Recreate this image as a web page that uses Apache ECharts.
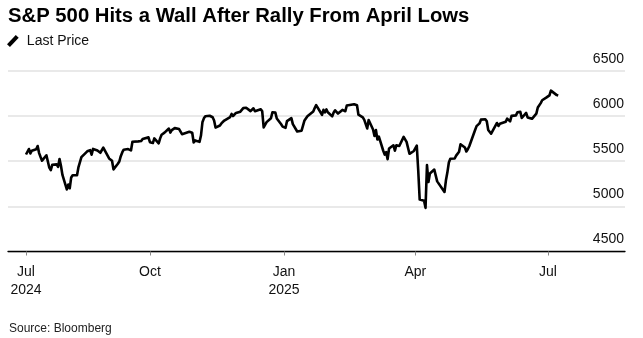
<!DOCTYPE html>
<html>
<head>
<meta charset="utf-8">
<script src="https://cdn.jsdelivr.net/npm/echarts@6/dist/echarts.min.js"></script>
<style>
  html, body { margin: 0; padding: 0; background: #fff; }
  #chart { width: 643px; height: 338px; }
</style>
</head>
<body>
<div id="chart"></div>
<script>
// S&P 500 daily closes, Jul 2024 - Jul 2025
const dates = [
  '2024-07-08','2024-07-09','2024-07-10','2024-07-11','2024-07-12','2024-07-15','2024-07-16','2024-07-17','2024-07-18','2024-07-19',
  '2024-07-22','2024-07-23','2024-07-24','2024-07-25','2024-07-26','2024-07-29','2024-07-30','2024-07-31',
  '2024-08-01','2024-08-02','2024-08-05','2024-08-06','2024-08-07','2024-08-08','2024-08-09','2024-08-12','2024-08-13','2024-08-14',
  '2024-08-15','2024-08-16','2024-08-19','2024-08-20','2024-08-21','2024-08-22','2024-08-23','2024-08-26','2024-08-27','2024-08-28',
  '2024-08-29','2024-08-30',
  '2024-09-03','2024-09-04','2024-09-05','2024-09-06','2024-09-09','2024-09-10','2024-09-11','2024-09-12','2024-09-13','2024-09-16',
  '2024-09-17','2024-09-18','2024-09-19','2024-09-20','2024-09-23','2024-09-24','2024-09-25','2024-09-26','2024-09-27','2024-09-30',
  '2024-10-01','2024-10-02','2024-10-03','2024-10-04','2024-10-07','2024-10-08','2024-10-09','2024-10-10','2024-10-11','2024-10-14',
  '2024-10-15','2024-10-16','2024-10-17','2024-10-18','2024-10-21','2024-10-22','2024-10-23','2024-10-24','2024-10-25','2024-10-28',
  '2024-10-29','2024-10-30','2024-10-31',
  '2024-11-01','2024-11-04','2024-11-05','2024-11-06','2024-11-07','2024-11-08','2024-11-11','2024-11-12','2024-11-13','2024-11-14',
  '2024-11-15','2024-11-18','2024-11-19','2024-11-20','2024-11-21','2024-11-22','2024-11-25','2024-11-26','2024-11-27','2024-11-29',
  '2024-12-02','2024-12-03','2024-12-04','2024-12-05','2024-12-06','2024-12-09','2024-12-10','2024-12-11','2024-12-12','2024-12-13',
  '2024-12-16','2024-12-17','2024-12-18','2024-12-19','2024-12-20','2024-12-23','2024-12-24','2024-12-26','2024-12-27','2024-12-30',
  '2024-12-31',
  '2025-01-02','2025-01-03','2025-01-06','2025-01-07','2025-01-08','2025-01-10','2025-01-13','2025-01-14','2025-01-15','2025-01-16',
  '2025-01-17','2025-01-21','2025-01-22','2025-01-23','2025-01-24','2025-01-27','2025-01-28','2025-01-29','2025-01-30','2025-01-31',
  '2025-02-03','2025-02-04','2025-02-05','2025-02-06','2025-02-07','2025-02-10','2025-02-11','2025-02-12','2025-02-13','2025-02-14',
  '2025-02-18','2025-02-19','2025-02-20','2025-02-21','2025-02-24','2025-02-25','2025-02-26','2025-02-27','2025-02-28',
  '2025-03-03','2025-03-04','2025-03-05','2025-03-06','2025-03-07','2025-03-10','2025-03-11','2025-03-12','2025-03-13','2025-03-14',
  '2025-03-17','2025-03-18','2025-03-19','2025-03-20','2025-03-21','2025-03-24','2025-03-25','2025-03-26','2025-03-27','2025-03-28',
  '2025-03-31',
  '2025-04-01','2025-04-02','2025-04-03','2025-04-04','2025-04-07','2025-04-08','2025-04-09','2025-04-10','2025-04-11','2025-04-14',
  '2025-04-15','2025-04-16','2025-04-17','2025-04-21','2025-04-22','2025-04-23','2025-04-24','2025-04-25','2025-04-28','2025-04-29',
  '2025-04-30',
  '2025-05-01','2025-05-02','2025-05-05','2025-05-06','2025-05-07','2025-05-08','2025-05-09','2025-05-12','2025-05-13','2025-05-14',
  '2025-05-15','2025-05-16','2025-05-19','2025-05-20','2025-05-21','2025-05-22','2025-05-23','2025-05-27','2025-05-28','2025-05-29',
  '2025-05-30',
  '2025-06-02','2025-06-03','2025-06-04','2025-06-05','2025-06-06','2025-06-09','2025-06-10','2025-06-11','2025-06-12','2025-06-13',
  '2025-06-16','2025-06-17','2025-06-18','2025-06-20','2025-06-23','2025-06-24','2025-06-25','2025-06-26','2025-06-27','2025-06-30',
  '2025-07-01','2025-07-02','2025-07-03','2025-07-07','2025-07-08'
];

const closes = [
  5572.85,5576.98,5633.91,5584.54,5615.35,5631.22,5667.20,5588.27,5544.59,5505.00,
  5564.41,5555.74,5427.13,5399.22,5459.10,5463.54,5436.44,5522.30,
  5446.68,5346.56,5186.33,5240.03,5199.50,5319.31,5344.16,5344.39,5434.43,5455.21,
  5543.22,5554.25,5608.25,5597.12,5620.85,5570.64,5634.61,5616.84,5625.80,5592.18,
  5591.96,5648.40,
  5528.93,5520.07,5503.41,5408.42,5471.05,5495.52,5554.13,5595.76,5626.02,5633.09,
  5634.58,5618.26,5713.64,5702.55,5718.57,5732.93,5722.26,5745.37,5738.17,5762.48,
  5708.75,5709.54,5699.94,5751.07,5695.94,5751.13,5792.04,5780.05,5815.03,5859.85,
  5815.26,5842.47,5841.47,5864.67,5853.98,5851.20,5797.42,5809.86,5808.12,5823.52,
  5832.92,5813.67,5705.45,
  5728.80,5712.69,5782.76,5929.04,5973.10,5995.54,6001.35,5983.99,5985.38,5949.17,
  5870.62,5893.62,5916.98,5917.11,5948.71,5969.34,5987.37,6021.63,5998.74,6032.38,
  6047.15,6049.88,6086.49,6075.11,6090.27,6052.85,6034.91,6084.19,6051.25,6051.09,
  6074.08,6050.61,5872.16,5867.08,5930.85,5974.07,6040.04,6037.59,5970.84,5906.94,
  5881.63,
  5868.55,5942.47,5975.38,5909.03,5918.25,5827.04,5836.22,5842.91,5949.91,5937.34,
  5996.66,6049.24,6086.37,6118.71,6101.24,6012.28,6067.70,6039.31,6071.17,6040.53,
  5994.57,6037.88,6061.48,6083.57,6025.99,6066.44,6068.50,6051.97,6115.07,6114.63,
  6129.58,6144.15,6117.52,6013.13,5983.25,5955.25,5956.06,5861.57,5954.50,
  5849.72,5778.15,5842.63,5738.52,5770.20,5614.56,5572.07,5599.30,5521.52,5638.94,
  5675.12,5614.66,5675.29,5662.89,5667.56,5767.57,5776.65,5712.20,5693.31,5580.94,
  5611.85,
  5633.07,5670.97,5396.52,5074.08,5062.25,4982.77,5456.90,5268.05,5363.36,5405.97,
  5396.63,5275.70,5282.70,5158.20,5287.76,5375.86,5484.77,5525.21,5528.75,5560.83,
  5569.06,
  5604.14,5686.67,5650.38,5606.91,5631.28,5663.94,5659.91,5844.19,5886.55,5892.58,
  5916.93,5958.38,5963.60,5940.46,5844.61,5842.01,5802.82,5921.54,5888.55,5912.17,
  5911.69,
  5935.94,5970.37,5970.81,5939.30,6000.36,6005.88,6038.81,6022.24,6045.26,5976.97,
  6033.11,5982.72,5980.87,5967.84,6025.17,6092.18,6092.16,6141.02,6173.07,6204.95,
  6198.01,6227.42,6279.35,6229.98,6225.52
];

// x-axis ticks and their labels
const tickDates = ['2024-07-08', '2024-10-01', '2025-01-01', '2025-04-01', '2025-07-01'];
const tickLabels = ['Jul\n2024', 'Oct', 'Jan\n2025', 'Apr', 'Jul'];

// y-axis range and step
const yMin = 4500, yMax = 6500, yStep = 500;

const DAY = 86400000;
const toTs = s => { const p = s.split('-').map(Number); return Date.UTC(p[0], p[1] - 1, p[2]); };
const tickTs = tickDates.map(toTs);
const seriesData = dates.map((d, i) => [toTs(d), closes[i]]);
const xMin = toTs('2024-07-08') - 12.34 * DAY;
const xMax = toTs('2025-07-01') + 52.8 * DAY;

const FONT = '"Liberation Sans", Arial, sans-serif';
const chart = echarts.init(document.getElementById('chart'), null, { renderer: 'canvas' });
chart.setOption({
  animation: false,
  backgroundColor: '#ffffff',
  textStyle: { fontFamily: FONT },
  title: [
    {
      text: 'S&P 500 Hits a Wall After Rally From April Lows',
      left: 8, top: 6, padding: 0,
      textStyle: { fontFamily: FONT, fontSize: 20.3, fontWeight: 'bold', color: '#000' }
    },
    {
      text: 'Source: Bloomberg',
      left: 9, top: 323, padding: 0,
      textStyle: { fontFamily: FONT, fontSize: 12, fontWeight: 'normal', color: '#222' }
    }
  ],
  legend: {
    left: 7, top: 34, padding: 0,
    itemWidth: 12, itemHeight: 12, itemGap: 8,
    icon: 'path://M0,10.5 L9,1 L12,3.8 L3,13.3 Z',
    textStyle: { fontFamily: FONT, fontSize: 14, color: '#111', padding: [0, 0, 0, 3] },
    data: ['Last Price']
  },
  grid: { left: 8, right: 18, top: 70.7, bottom: 86.5, containLabel: false },
  xAxis: {
    type: 'value',
    min: xMin, max: xMax,
    axisLine: { show: true, lineStyle: { color: '#000', width: 1.3 } },
    axisTick: { show: true, customValues: tickTs, length: 4, lineStyle: { color: '#888', width: 1 } },
    axisLabel: {
      customValues: tickTs,
      formatter: v => { const i = tickTs.indexOf(v); return i >= 0 ? tickLabels[i] : ''; },
      fontFamily: FONT, fontSize: 14, color: '#111', lineHeight: 18.5, margin: 11
    },
    splitLine: { show: false }
  },
  yAxis: {
    type: 'value',
    position: 'right',
    min: yMin, max: yMax, interval: yStep,
    axisLine: { show: false },
    axisTick: { show: false },
    axisLabel: {
      inside: true, align: 'right', verticalAlign: 'bottom', margin: 1,
      padding: [0, 0, 5, 0],
      formatter: v => String(v),
      fontFamily: FONT, fontSize: 14, color: '#111'
    },
    splitLine: { show: true, lineStyle: { color: '#e2e2e2', width: 1.5 } }
  },
  series: [{
    name: 'Last Price',
    type: 'line',
    data: seriesData,
    showSymbol: false,
    symbol: 'none',
    lineStyle: { color: '#000', width: 2.6, join: 'round' },
    itemStyle: { color: '#000' }
  }]
});
</script>
</body>
</html>
